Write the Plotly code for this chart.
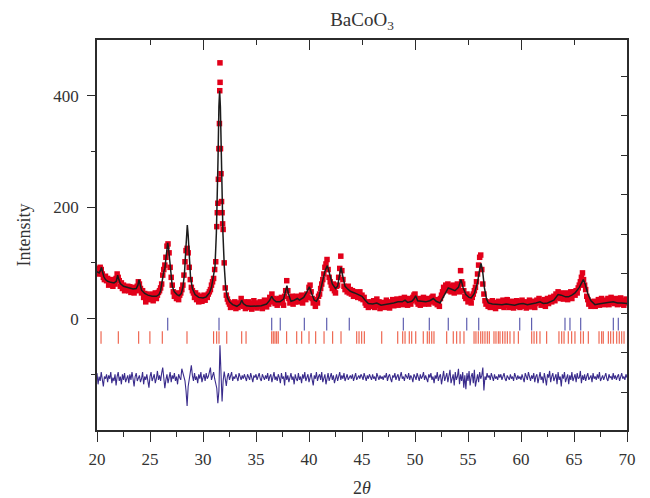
import numpy as np
import plotly.graph_objects as go

# ---------------- data ----------------
# Observed intensity on a 0.1 deg 2-theta grid, 20.0 ... 70.0
two_theta_start = 20.0
two_theta_step = 0.1
obs_rows = [
    [90, 86, 80, 92, 88, 80, 74, 70, 76, 68],        # 20
    [72, 60, 68, 62, 70, 58, 66, 62, 72, 80],        # 21
    [74, 68, 58, 64, 54, 60, 50, 57, 52, 58],        # 22
    [50, 57, 47, 55, 52, 46, 56, 50, 58, 66],        # 23
    [62, 54, 46, 50, 38, 45, 30, 44, 40, 34],        # 24
    [42, 36, 44, 32, 40, 46, 36, 42, 47, 50],        # 25
    [55, 62, 78, 88, 96, 110, 130, 134, 118, 92],    # 26
    [74, 60, 48, 40, 46, 36, 44, 34, 42, 46],        # 27
    [52, 60, 78, 102, 122, 126, 118, 92, 70, 56],    # 28
    [50, 46, 38, 46, 34, 42, 30, 40, 36, 31],        # 29
    [36, 42, 33, 40, 38, 44, 48, 52, 60, 66],        # 30
    [72, 88, 102, 165, 207, 305, 459, 260, 190, 160],  # 31
    [100, 55, 42, 35, 30, 26, 20, 28, 22, 24],       # 32
    [30, 18, 26, 20, 28, 24, 36, 28, 22, 30],        # 33
    [18, 26, 22, 30, 20, 27, 17, 25, 32, 21],        # 34
    [26, 19, 28, 22, 30, 24, 18, 27, 33, 25],        # 35
    [21, 30, 26, 38, 34, 44, 30, 36, 27, 34],        # 36
    [24, 30, 36, 28, 38, 33, 24, 40, 50, 68],        # 37
    [50, 36, 28, 34, 40, 26, 36, 30, 40, 34],        # 38
    [30, 38, 33, 42, 28, 36, 40, 34, 44, 38],        # 39
    [56, 60, 48, 36, 28, 30, 22, 34, 28, 40],        # 40
    [44, 54, 62, 70, 80, 92, 98, 106, 88, 74],       # 41
    [66, 60, 54, 62, 50, 46, 58, 60, 74, 90],        # 42
    [112, 86, 70, 58, 52, 56, 48, 58, 46, 52],       # 43
    [44, 50, 40, 48, 42, 47, 38, 44, 48, 36],        # 44
    [42, 34, 38, 28, 24, 30, 20, 27, 22, 30],        # 45
    [24, 32, 20, 28, 35, 24, 30, 18, 26, 22],        # 46
    [29, 20, 27, 33, 22, 28, 19, 30, 25, 34],        # 47
    [23, 30, 26, 35, 24, 32, 28, 36, 25, 32],        # 48
    [38, 28, 34, 24, 30, 36, 26, 32, 38, 42],        # 49
    [44, 34, 30, 26, 36, 24, 34, 28, 38, 26],        # 50
    [33, 28, 36, 26, 34, 30, 38, 40, 32, 28],        # 51
    [34, 25, 30, 22, 36, 42, 48, 56, 52, 60],        # 52
    [54, 62, 50, 58, 48, 56, 60, 46, 52, 58],        # 53
    [62, 56, 48, 86, 66, 62, 50, 40, 36, 44],        # 54
    [30, 40, 34, 28, 38, 44, 50, 56, 66, 80],        # 55
    [96, 110, 114, 88, 62, 44, 32, 26, 30, 22],      # 56
    [28, 20, 26, 32, 22, 29, 18, 27, 24, 31],        # 57
    [22, 30, 25, 33, 20, 28, 24, 34, 26, 20],        # 58
    [29, 23, 31, 19, 27, 22, 32, 25, 30, 20],        # 59
    [27, 33, 22, 30, 24, 19, 29, 25, 33, 21],        # 60
    [28, 24, 31, 20, 27, 33, 29, 36, 30, 24],        # 61
    [31, 25, 34, 22, 30, 36, 27, 33, 38, 30],        # 62
    [36, 40, 32, 44, 38, 48, 42, 36, 46, 40],        # 63
    [35, 44, 38, 46, 34, 42, 38, 48, 36, 44],        # 64
    [48, 42, 50, 46, 55, 60, 66, 74, 82, 70],        # 65
    [60, 52, 40, 34, 26, 30, 22, 28, 24, 31],        # 66
    [22, 30, 26, 34, 24, 29, 36, 27, 32, 25],        # 67
    [33, 28, 36, 25, 31, 38, 29, 34, 27, 36],        # 68
    [30, 25, 34, 28, 37, 26, 32, 24, 30, 35],        # 69
    [28],                                            # 70
]
# extra observed points on the main (110) reflection
obs_peak_x = [31.35, 31.45, 31.55, 31.57, 31.58, 31.61, 31.65, 31.75, 31.85]
obs_peak_y = [190, 250, 350, 305, 409, 424, 305, 210, 170]

# Calculated (Rietveld) profile
calc_x = [20.0, 20.2, 20.32, 20.42, 20.52, 20.65, 20.8, 21.0, 21.3, 21.6, 21.82, 21.95, 22.06,
          22.2, 22.5, 22.8, 23.1, 23.4, 23.7, 23.86, 23.96, 24.06, 24.2, 24.5, 24.8, 25.2,
          25.6, 25.85, 26.0, 26.12, 26.22, 26.3, 26.4, 26.5, 26.6, 26.67, 26.75, 26.85,
          26.95, 27.1, 27.3, 27.55, 27.75, 27.95, 28.1, 28.25, 28.38, 28.46, 28.52, 28.6,
          28.7, 28.82, 29.0, 29.25, 29.6, 30.0, 30.3, 30.6, 30.8, 30.97, 31.13, 31.26,
          31.35, 31.415, 31.5, 31.57, 31.64, 31.725, 31.8, 31.88, 32.01, 32.14, 32.3,
          32.5, 32.8, 33.2, 33.5, 33.65, 33.8, 34.1, 34.5, 35.0, 35.5, 36.0, 36.3, 36.48,
          36.65, 36.9, 37.26, 37.6, 37.8, 37.92, 38.05, 38.3, 38.6, 38.9, 39.1, 39.3,
          39.5, 39.8, 40.03, 40.25, 40.5, 40.7, 40.95, 41.2, 41.5, 41.73, 41.95, 42.2,
          42.5, 42.7, 42.85, 43.02, 43.2, 43.4, 43.6, 43.9, 44.3, 44.7, 45.0, 45.3, 45.6,
          46.0, 46.4, 46.8, 47.2, 47.6, 48.0, 48.4, 48.8, 49.06, 49.3, 49.7, 49.9, 50.06,
          50.25, 50.6, 51.0, 51.4, 51.73, 52.0, 52.36, 52.7, 53.0, 53.14, 53.4, 53.77,
          54.1, 54.34, 54.55, 54.8, 55.1, 55.3, 55.6, 55.9, 56.1, 56.23, 56.38, 56.55,
          56.75, 56.92, 57.3, 57.8, 58.2, 58.6, 59.0, 59.4, 59.8, 60.2, 60.6, 61.0, 61.4,
          61.8, 62.1, 62.5, 62.8, 63.1, 63.5, 63.8, 64.2, 64.47, 64.8, 65.1, 65.5, 65.75,
          65.88, 66.05, 66.3, 66.6, 66.98, 67.3, 67.8, 68.2, 68.7, 69.1, 69.5, 70.0]
calc_y = [84, 82, 86, 92, 84, 75, 70, 67, 65, 64, 67, 78, 70,
          63, 58, 56, 54, 53, 54, 60, 70, 60, 51, 45, 42, 40,
          40, 43, 50, 64, 80, 84, 90, 110, 130, 136, 126, 102,
          78, 58, 48, 43, 41, 45, 56, 80, 125, 160, 168, 150,
          110, 75, 54, 43, 38, 37, 39, 46, 56, 75, 93, 153,
          210, 284, 380, 409, 380, 284, 210, 153, 93, 55, 38,
          30, 25, 22, 26, 33, 27, 23, 22, 22, 23, 26, 33, 40,
          34, 30, 30, 35, 48, 59, 45, 31, 33, 36, 33, 35,
          38, 48, 57, 45, 33, 31, 40, 60, 85, 95, 80, 62,
          54, 58, 75, 92, 75, 58, 54, 49, 46, 43, 40, 33, 27,
          26, 28, 24, 25, 27, 28, 30, 30, 33, 29, 31, 35, 41,
          32, 31, 30, 32, 36, 31, 28, 40, 52, 55, 53, 50,
          56, 70, 55, 43, 38, 37, 45, 65, 88, 99, 85, 55,
          35, 28, 26, 25, 25, 26, 25, 24, 26, 27, 25, 26, 28,
          30, 27, 28, 30, 33, 43, 42, 39, 39, 42, 46, 56, 67,
          70, 62, 45, 32, 25, 26, 28, 29, 30, 28, 28, 27]

# Difference curve (obs - calc, drawn with its offset), same 0.1 deg grid
diff_rows = [
    [-98, -118, -104, -112, -96, -110, -122, -104, -108, -100],
    [-114, -102, -108, -96, -116, -106, -112, -100, -120, -104],
    [-96, -112, -104, -118, -100, -110, -98, -114, -106, -102],
    [-116, -100, -110, -96, -108, -122, -104, -98, -112, -106],
    [-102, -114, -108, -96, -118, -104, -110, -100, -112, -124],
    [-104, -96, -112, -106, -100, -116, -108, -94, -110, -102],
    [-112, -98, -88, -106, -125, -110, -100, -116, -104, -96],
    [-114, -102, -108, -98, -112, -104, -118, -100, -106, -110],
    [-90, -96, -104, -112, -130, -157, -122, -106, -98, -84],
    [-102, -112, -98, -110, -104, -116, -100, -108, -96, -114],
    [-106, -100, -112, -98, -108, -104, -96, -88, -110, -102],
    [-96, -108, -118, -125, -152, -130, -48, -120, -149, -112],
    [-95, -108, -121, -104, -98, -110, -102, -96, -112, -104],
    [-108, -100, -106, -112, -98, -104, -110, -102, -108, -100],
    [-106, -112, -100, -104, -110, -98, -108, -114, -102, -106],
    [-100, -110, -104, -98, -108, -112, -100, -106, -110, -102],
    [-108, -98, -112, -104, -100, -114, -106, -96, -110, -104],
    [-112, -100, -106, -116, -98, -108, -104, -120, -96, -110],
    [-102, -114, -106, -98, -110, -104, -118, -100, -108, -112],
    [-98, -110, -104, -116, -100, -108, -96, -112, -106, -100],
    [-114, -104, -98, -110, -120, -102, -108, -96, -112, -104],
    [-100, -110, -96, -114, -104, -100, -118, -106, -98, -112],
    [-104, -98, -110, -102, -116, -106, -100, -112, -104, -96],
    [-110, -102, -108, -98, -112, -104, -100, -110, -106, -102],
    [-108, -100, -112, -104, -98, -110, -106, -102, -108, -100],
    [-104, -110, -98, -106, -112, -102, -108, -100, -106, -110],
    [-100, -108, -104, -112, -98, -106, -110, -102, -108, -104],
    [-110, -102, -106, -98, -112, -104, -100, -108, -114, -102],
    [-106, -98, -110, -104, -100, -112, -106, -96, -108, -104],
    [-112, -100, -104, -108, -98, -110, -102, -106, -114, -100],
    [-104, -110, -98, -106, -112, -100, -108, -104, -96, -110],
    [-102, -108, -114, -100, -106, -98, -110, -104, -116, -102],
    [-108, -96, -112, -104, -100, -118, -106, -94, -112, -104],
    [-98, -114, -104, -92, -116, -106, -100, -120, -96, -110],
    [-104, -90, -118, -100, -112, -96, -124, -102, -127, -98],
    [-112, -94, -120, -104, -98, -116, -92, -122, -106, -100],
    [-114, -96, -108, -102, -88, -129, -104, -110, -98, -106],
    [-102, -110, -98, -106, -112, -100, -108, -104, -110, -100],
    [-106, -100, -110, -104, -98, -108, -112, -102, -106, -110],
    [-100, -108, -104, -112, -98, -106, -110, -102, -108, -104],
    [-110, -100, -106, -114, -98, -104, -110, -96, -108, -112],
    [-102, -108, -98, -114, -104, -100, -116, -106, -96, -110],
    [-104, -116, -98, -108, -120, -100, -106, -94, -114, -104],
    [-98, -112, -106, -100, -118, -96, -110, -104, -122, -100],
    [-108, -96, -114, -104, -100, -118, -102, -110, -96, -112],
    [-104, -100, -114, -98, -108, -106, -94, -116, -102, -110],
    [-100, -112, -104, -98, -110, -106, -102, -114, -98, -108],
    [-104, -110, -100, -108, -96, -112, -106, -102, -110, -104],
    [-98, -108, -112, -100, -106, -104, -110, -98, -108, -102],
    [-110, -104, -100, -112, -106, -98, -108, -104, -110, -100],
    [-106],
]

# Bragg reflection positions (2-theta) of the two phases
bragg_phase1 = [26.67, 31.51, 36.48, 37.29, 39.56, 41.67, 43.8, 48.9, 51.35, 53.14,
                54.88, 56.01, 59.88, 61.0, 64.15, 64.62, 65.63, 68.71, 69.18]
bragg_phase2 = [20.38, 22.01, 23.93, 24.99, 26.16, 28.49, 31.0, 31.29, 31.51, 32.24,
                33.65, 34.06, 36.48, 36.63, 36.79, 36.95, 37.1, 37.89, 38.84, 39.31,
                40.0, 40.63, 41.42, 42.23, 43.02, 44.5, 44.72, 44.97, 45.22,
                46.86, 48.37, 48.84, 49.06, 49.46, 49.69, 50.07, 50.78, 51.16, 51.35,
                51.58, 51.79, 52.99, 53.61, 53.93, 54.25, 54.62, 55.57, 55.75, 55.97,
                56.2, 56.39, 56.6, 56.82, 57.01, 57.45, 57.64, 57.86, 58.02, 58.27,
                58.49, 58.71, 58.96, 59.34, 59.75, 61.01, 61.23, 61.48, 61.79, 62.42,
                63.58, 63.84, 64.06, 64.46, 64.78, 65.09, 65.63, 65.88, 66.35, 67.36,
                67.61, 67.76, 68.24, 68.46, 68.71, 69.03, 69.27, 69.5, 69.72]

x_tick_vals = [20, 25, 30, 35, 40, 45, 50, 55, 60, 65, 70]
y_tick_vals = [0, 200, 400]

# ---------------- assemble ----------------
obs_y = [v for row in obs_rows for v in row]
diff_y = [v for row in diff_rows for v in row]
grid_x = [round(two_theta_start + i * two_theta_step, 2) for i in range(len(obs_y))]

# style constants
FONT = "Liberation Serif"
TXT = "#333333"
AX = "#2b2b2b"
BRAGG1_LEVEL = -10
BRAGG2_LEVEL = -34
FIG_W, FIG_H = 642, 490      # the page body adds an 8 px margin

fig = go.Figure()

fig.add_trace(go.Scatter(
    x=grid_x + obs_peak_x, y=obs_y + obs_peak_y, mode="markers",
    marker=dict(symbol="square", size=5.5, color="#e2001a", line=dict(width=0)),
    hoverinfo="skip", showlegend=False))

fig.add_trace(go.Scatter(
    x=calc_x, y=calc_y, mode="lines",
    line=dict(color="#1c1c1c", width=1.5),
    hoverinfo="skip", showlegend=False))

fig.add_trace(go.Scatter(
    x=bragg_phase1, y=[BRAGG1_LEVEL] * len(bragg_phase1), mode="markers",
    marker=dict(symbol="line-ns", size=9, line=dict(width=1.2, color="#5f5fb0")),
    hoverinfo="skip", showlegend=False))

fig.add_trace(go.Scatter(
    x=bragg_phase2, y=[BRAGG2_LEVEL] * len(bragg_phase2), mode="markers",
    marker=dict(symbol="line-ns", size=9, line=dict(width=1.1, color="#ec4a30")),
    opacity=0.9, hoverinfo="skip", showlegend=False))

fig.add_trace(go.Scatter(
    x=grid_x, y=diff_y, mode="lines",
    line=dict(color="#3a2c8c", width=1.1),
    hoverinfo="skip", showlegend=False))

# invisible trace to activate the mirrored (top/right) axes
fig.add_trace(go.Scatter(x=[], y=[], xaxis="x2", yaxis="y2", mode="markers",
                         hoverinfo="skip", showlegend=False))

tick_font = dict(family=FONT, size=17, color=TXT)

fig.update_layout(
    width=FIG_W, height=FIG_H,
    margin=dict(l=89, r=23, t=32, b=68, autoexpand=False),
    paper_bgcolor="white", plot_bgcolor="white",
    showlegend=False,
    font=dict(family=FONT, color=TXT),
    title=dict(text="BaCoO<sub>3</sub>", x=0.5, xref="paper", xanchor="center",
               y=1 - 11 / FIG_H, yref="container", yanchor="middle",
               font=dict(family=FONT, size=19, color=TXT)),
    xaxis=dict(range=[20, 70], tickvals=x_tick_vals, ticks="outside", ticklen=10,
               tickwidth=1.2, tickcolor=AX, showline=True, linecolor=AX, linewidth=1.5,
               showgrid=False, zeroline=False, tickfont=tick_font, ticklabelstandoff=3,
               automargin=False,
               minor=dict(dtick=2.5, tick0=20, ticks="outside", ticklen=5,
                          tickwidth=1.2, tickcolor=AX, showgrid=False),
               title=dict(text="2<i>θ</i>", font=dict(family=FONT, size=18, color=TXT),
                          standoff=20)),
    xaxis2=dict(range=[20, 70], overlaying="x", side="top", dtick=10, tick0=20,
                ticks="inside", ticklen=10, tickwidth=1.2, tickcolor=AX,
                showticklabels=False, showline=True, linecolor=AX, linewidth=1.5,
                showgrid=False, zeroline=False, automargin=False,
                minor=dict(dtick=5, tick0=20, ticks="inside", ticklen=5,
                           tickwidth=1.2, tickcolor=AX, showgrid=False)),
    yaxis=dict(range=[-200, 500], tickvals=y_tick_vals, ticks="outside", ticklen=8,
               tickwidth=1.2, tickcolor=AX, showline=True, linecolor=AX, linewidth=1.5,
               showgrid=False, zeroline=False, tickfont=tick_font, ticklabelstandoff=5,
               automargin=False,
               minor=dict(tickvals=[-100, 100, 300], ticks="outside", ticklen=4,
                          tickwidth=1.2, tickcolor=AX, showgrid=False),
               title=dict(text="Intensity", font=dict(family=FONT, size=18, color=TXT),
                          standoff=18)),
    yaxis2=dict(range=[-2.95, 6.92], overlaying="y", side="right", dtick=1, tick0=0,
                ticks="inside", ticklen=6, tickwidth=1.2, tickcolor=AX,
                showticklabels=False, showline=True, linecolor=AX, linewidth=1.5,
                showgrid=False, zeroline=False, automargin=False),
)

fig.write_html("out.html")
